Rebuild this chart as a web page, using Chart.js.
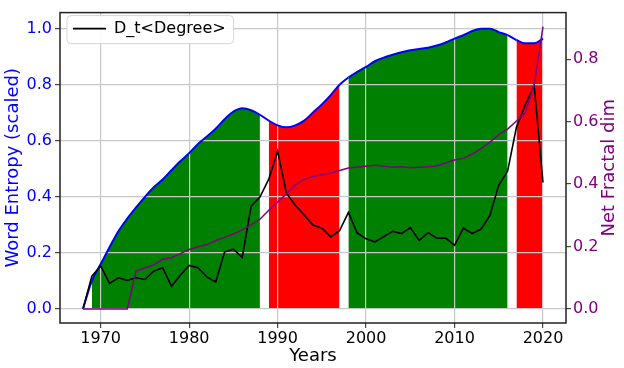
<!DOCTYPE html>
<html lang="en">
<head>
  <meta charset="UTF-8">
  <title>Word Entropy and Net Fractal dim</title>
  <script src="https://cdn.jsdelivr.net/npm/chart.js"></script>
  <style>
    body { margin: 0; background: #fff; }
    canvas { display: block; }
  </style>
</head>
<body>
  <canvas id="entropyChart" width="624" height="368"></canvas>

  <script>
    // Years on the x axis
    const years = [
      1968, 1969, 1970, 1971, 1972, 1973, 1974, 1975, 1976, 1977,
      1978, 1979, 1980, 1981, 1982, 1983, 1984, 1985, 1986, 1987,
      1988, 1989, 1990, 1991, 1992, 1993, 1994, 1995, 1996, 1997,
      1998, 1999, 2000, 2001, 2002, 2003, 2004, 2005, 2006, 2007,
      2008, 2009, 2010, 2011, 2012, 2013, 2014, 2015, 2016, 2017,
      2018, 2019, 2020
    ];

    // Word Entropy (scaled) - blue curve, left axis
    const wordEntropy = [
      0.0, 0.10, 0.16, 0.22, 0.277, 0.322, 0.362, 0.40, 0.434, 0.462,
      0.495, 0.527, 0.556, 0.589, 0.615, 0.643, 0.677, 0.704, 0.716, 0.709,
      0.693, 0.672, 0.655, 0.648, 0.655, 0.672, 0.701, 0.73, 0.763, 0.80,
      0.826, 0.846, 0.864, 0.884, 0.897, 0.907, 0.916, 0.923, 0.928, 0.932,
      0.94, 0.951, 0.965, 0.977, 0.992, 1.0, 1.0, 0.988, 0.977, 0.96,
      0.948, 0.948, 0.965
    ];

    // D_t<Degree> - black line, left axis
    const degree = [
      0.0, 0.117, 0.153, 0.091, 0.111, 0.102, 0.111, 0.105, 0.135, 0.147,
      0.081, 0.12, 0.155, 0.147, 0.114, 0.096, 0.203, 0.213, 0.184, 0.367,
      0.399, 0.463, 0.563, 0.413, 0.37, 0.335, 0.299, 0.288, 0.257, 0.279,
      0.344, 0.271, 0.25, 0.239, 0.258, 0.277, 0.269, 0.29, 0.244, 0.272,
      0.252, 0.253, 0.227, 0.288, 0.269, 0.285, 0.334, 0.442, 0.492, 0.649,
      0.728, 0.798, 0.451
    ];

    // Net Fractal dim - purple line, right axis
    const fractalDim = [
      0.0, 0.0, 0.0, 0.0, 0.0, 0.0, 0.121, 0.131, 0.141, 0.159,
      0.164, 0.177, 0.19, 0.198, 0.206, 0.219, 0.229, 0.24, 0.253, 0.269,
      0.287, 0.316, 0.342, 0.369, 0.397, 0.415, 0.424, 0.43, 0.435, 0.443,
      0.451, 0.454, 0.457, 0.46, 0.457, 0.454, 0.455, 0.452, 0.454, 0.455,
      0.458, 0.467, 0.477, 0.482, 0.496, 0.513, 0.534, 0.558, 0.576, 0.602,
      0.628, 0.717, 0.904
    ];

    // Shaded periods under the entropy curve
    const periodStart = [1969, 1989, 1998, 2017];
    const periodEnd = [1988, 1997, 2016, 2020];
    const periodColor = ['#008000', '#ff0000', '#008000', '#ff0000'];

    // Tick labels
    const yearTicks = [1970, 1980, 1990, 2000, 2010, 2020];
    const entropyTicks = [0.0, 0.2, 0.4, 0.6, 0.8, 1.0];
    const fractalTicks = [0.0, 0.2, 0.4, 0.6, 0.8];
    const rightTitle = 'Net Fractal dim';

    const toPoints = (vals) => years.map((y, i) => ({ x: y, y: vals[i] }));

    function periodFill(ctx) {
      const a = ctx.p0.parsed.x, b = ctx.p1.parsed.x;
      for (let i = 0; i < periodStart.length; i++) {
        if (a >= periodStart[i] && b <= periodEnd[i]) return periodColor[i];
      }
      return 'rgba(0,0,0,0)';
    }

    Chart.defaults.font.family = "'DejaVu Sans', sans-serif";
    Chart.defaults.color = '#000';

    const gridColor = '#c8c8c8';
    const tickColor = '#444';

    // frame round the plot, right title read bottom-up, legend box on top
    const framePlugin = {
      id: 'frame',
      afterLayout(chart) {
        // legend in chartArea mode starts at y=0, move it next to the plot top
        const lg = chart.legend;
        const h = lg.height;
        lg.top = chart.chartArea.top - 5;
        lg.bottom = lg.top + h;
      },
      afterDraw(chart) {
        const { ctx, chartArea: a } = chart;
        ctx.save();
        ctx.strokeStyle = '#222';
        ctx.lineWidth = 1.5;
        ctx.strokeRect(a.left, a.top, a.right - a.left, a.bottom - a.top);

        const s = chart.scales.y2;
        ctx.translate(s.right - 14.5, (a.top + a.bottom) / 2);
        ctx.rotate(-Math.PI / 2);
        ctx.textAlign = 'center';
        ctx.textBaseline = 'middle';
        ctx.font = "18px 'DejaVu Sans'";
        ctx.fillStyle = '#800080';
        ctx.fillText(rightTitle, 0, 0);
        ctx.restore();

        const hb = chart.legend.legendHitBoxes[0];
        if (hb) {
          ctx.save();
          ctx.beginPath();
          ctx.roundRect(hb.left - 6, hb.top - 5, hb.width + 14, hb.height + 12, 4);
          ctx.fillStyle = 'rgba(255,255,255,0.9)';
          ctx.fill();
          ctx.strokeStyle = '#d6d6d6';
          ctx.lineWidth = 1;
          ctx.stroke();
          ctx.restore();
          chart.legend.draw();
        }
      }
    };

    const chart = new Chart(document.getElementById('entropyChart'), {
      type: 'line',
      data: {
        datasets: [{
          label: 'Net Fractal dim',
          data: toPoints(fractalDim),
          yAxisID: 'y2',
          borderColor: '#800080',
          borderWidth: 1.5,
          pointRadius: 0,
          fill: false,
          order: 1
        }, {
          label: 'D_t<Degree>',
          data: toPoints(degree),
          yAxisID: 'y',
          borderColor: '#000',
          backgroundColor: '#000',
          borderWidth: 1.6,
          pointRadius: 0,
          fill: false,
          order: 2
        }, {
          label: 'Word Entropy (scaled)',
          data: toPoints(wordEntropy),
          yAxisID: 'y',
          borderColor: '#0000ff',
          backgroundColor: '#008000',
          borderWidth: 2,
          pointRadius: 0,
          cubicInterpolationMode: 'monotone',
          fill: 'origin',
          segment: { backgroundColor: periodFill },
          order: 3
        }]
      },
      options: {
        responsive: false,
        animation: false,
        layout: { padding: { top: 6, left: 0, right: 0, bottom: 0 } },
        plugins: {
          filler: { drawTime: 'beforeDraw' },
          tooltip: { enabled: false },
          legend: {
            position: 'chartArea',
            align: 'start',
            labels: {
              filter: (item) => item.text === 'D_t<Degree>',
              usePointStyle: true,
              pointStyle: 'line',
              pointStyleWidth: 33,
              padding: 13,
              color: '#000',
              font: { size: 16 }
            }
          }
        },
        scales: {
          x: {
            type: 'linear',
            min: 1965.4,
            max: 2022.6,
            afterBuildTicks: (s) => { s.ticks = yearTicks.map(v => ({ value: v })); },
            afterFit: (s) => { s.height = 45; },
            ticks: {
              callback: (v) => String(v),
              font: { size: 16 },
              color: '#000',
              padding: 1,
              maxRotation: 0,
              autoSkip: false
            },
            grid: { color: gridColor, lineWidth: 1.2, tickLength: 5, tickColor: tickColor },
            border: { display: false },
            title: { display: true, text: 'Years', font: { size: 18 }, color: '#000', padding: { top: 0, bottom: 1 } }
          },
          y: {
            position: 'left',
            min: -0.0504,
            max: 1.0577,
            afterBuildTicks: (s) => { s.ticks = entropyTicks.map(v => ({ value: v })); },
            afterFit: (s) => { s.width = 60; },
            ticks: {
              callback: (v) => v.toFixed(1),
              font: { size: 16 },
              color: '#0000ff',
              padding: 3
            },
            grid: { color: gridColor, lineWidth: 1.2, tickLength: 5, tickColor: tickColor },
            border: { display: false },
            title: { display: true, text: 'Word Entropy (scaled)', font: { size: 18 }, color: '#0000ff', padding: { top: 2.5, bottom: 0 } }
          },
          y2: {
            position: 'right',
            min: -0.0452,
            max: 0.949,
            afterBuildTicks: (s) => { s.ticks = fractalTicks.map(v => ({ value: v })); },
            afterFit: (s) => { s.width = 58; },
            ticks: {
              callback: (v) => v.toFixed(1),
              font: { size: 16 },
              color: '#800080',
              padding: 2
            },
            grid: { drawOnChartArea: false, tickLength: 5, tickColor: tickColor, lineWidth: 1.2 },
            border: { display: false },
            title: { display: false }
          }
        }
      },
      plugins: [framePlugin]
    });
  </script>
</body>
</html>
